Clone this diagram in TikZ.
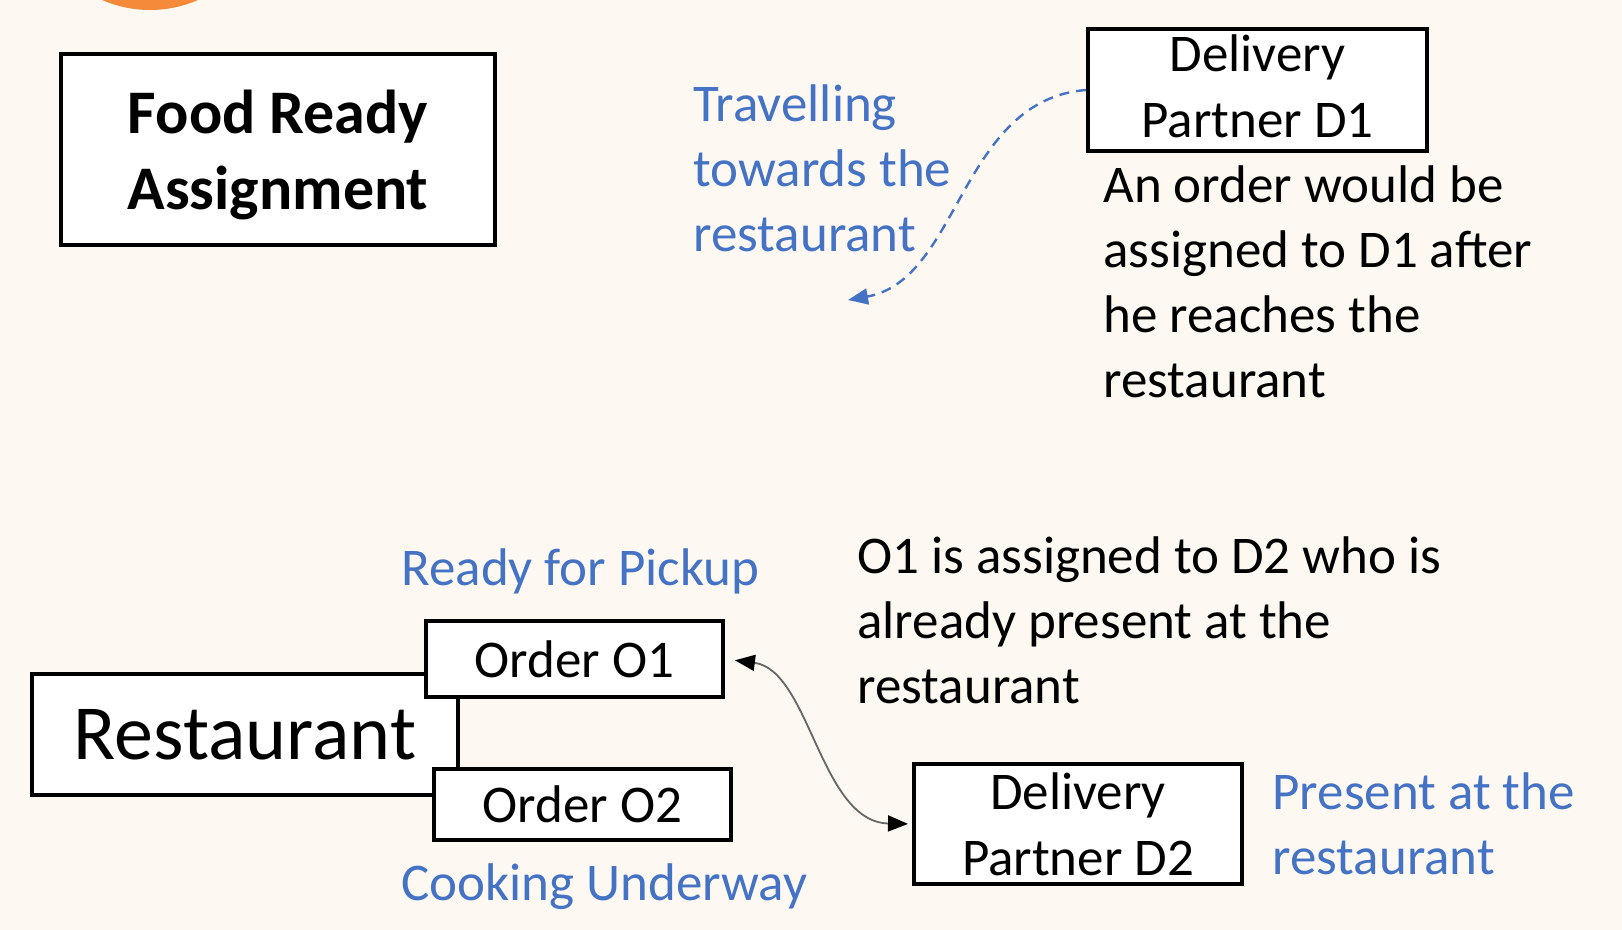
\documentclass[tikz,border=0pt]{standalone}
\usepackage{fontspec}
\setmainfont{Carlito}
\usetikzlibrary{arrows.meta,positioning}
\definecolor{paper}{HTML}{FDF8F2}
\definecolor{officeblue}{HTML}{4472C4}
\definecolor{badge}{HTML}{F58A3A}

\begin{document}
\begin{tikzpicture}[x=0.5pt,y=-0.5pt,
  box/.style={draw,line width=2pt,fill=white,align=center,inner sep=0pt,
    font=\fontsize{26.5}{33}\selectfont},
  note/.style={align=left,inner sep=0pt,font=\fontsize{26.5}{32.5}\selectfont},
  bluenote/.style={note,text=officeblue},
  travel/.style={-{Triangle[length=10pt,width=8pt]},line width=1.2pt,draw=officeblue,
    dash pattern=on 5pt off 3.5pt},
  link/.style={{Triangle[length=10pt,width=8pt,black]}-{Triangle[length=10pt,width=8pt,black]},
    line width=0.9pt,draw=black!60}
]
\fill[paper] (0,0) rectangle (1622,930);
\useasboundingbox (0,0) rectangle (1622,930);
\begin{scope}
  \clip (0,0) rectangle (1622,930);
  \fill[badge] (150,-110) circle[radius=60pt];
\end{scope}
\node[box,minimum width=217pt,minimum height=95.5pt,font=\bfseries\fontsize{31}{37.75}\selectfont] (food) at (278,150) {\raisebox{-2.5pt}[\height][\depth]{Food Ready}\\\raisebox{-2.5pt}[\height][\depth]{Assignment}};
\node[box,minimum width=169.5pt,minimum height=61pt] (d1) at (1257.5,90) {\raisebox{2pt}[\height][\depth]{Delivery}\\\raisebox{2pt}[\height][\depth]{Partner D1}};
\node[note,below right=6pt and 8.5pt of d1.south west] (d1note) {An order would be\\assigned to D1 after\\he reaches the\\restaurant};
\node[bluenote,anchor=west] (towards) at (693,168) {Travelling\\towards the\\restaurant};
\coordinate (towardsend) at (848,300);
\node[box,minimum width=213pt,minimum height=60.5pt,font=\fontsize{39}{47}\selectfont] (rest) at (245,734.5) {Restaurant};
\node[box,minimum width=148.5pt,minimum height=38pt] (o1) at (574.5,659) {Order O1};
\node[box,minimum width=148.5pt,minimum height=35.5pt] (o2) at (582.5,804.5) {Order O2};
\node[bluenote,above right=12.5pt and -11.5pt of o1.north west] (ready) {Ready for Pickup};
\node[bluenote,below right=10.5pt and -15.5pt of o2.south west] (cooking) {Cooking Underway};
\node[note,anchor=west] (assign) at (857,620) {O1 is assigned to D2 who is\\already present at the\\restaurant};
\node[box,minimum width=164pt,minimum height=60pt] (d2) at (1078,824) {Delivery\\Partner D2};
\node[bluenote,right=14pt of d2] (present) {Present at the\\restaurant};
\draw[travel] (d1.west) .. controls (960,100) and (960,280) .. (towardsend);
\draw[link,shorten <=5pt,shorten >=2pt] (o1.east) .. controls (810,670) and (820,822) .. (d2.west);
\end{tikzpicture}
\end{document}
